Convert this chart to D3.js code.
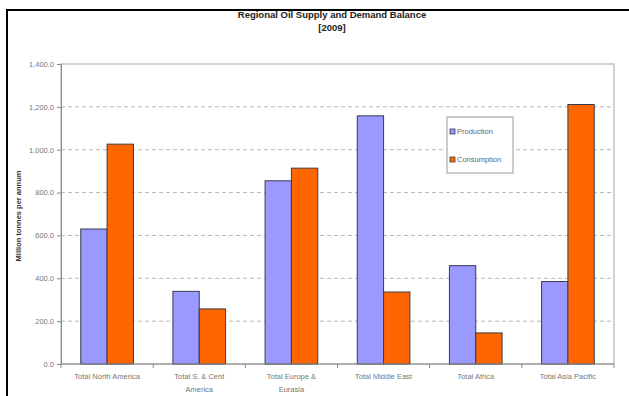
<!DOCTYPE html>
<html>
<head>
<meta charset="utf-8">
<script src="https://cdn.jsdelivr.net/npm/d3@7"></script>
<style>
  html, body { margin: 0; padding: 0; background: #fff; }
  svg { display: block; font-family: "Liberation Sans", Arial, sans-serif; }
</style>
</head>
<body>
<svg id="chart" width="629" height="396"></svg>
<script>
// Regional oil production vs consumption, 2009 (million tonnes)
const regions = [
  ["Total North America"],
  ["Total S. & Cent", "America"],
  ["Total Europe &", "Eurasia"],
  ["Total Middle East"],
  ["Total Africa"],
  ["Total Asia Pacific"]
];
const production  = [630, 339, 855, 1158, 459, 385];
const consumption = [1026, 257, 914, 336, 145, 1211];
const seriesNames = ["Production", "Consumption"];
const seriesColors = ["#9999ff", "#ff6600"];
const yTicks = [0, 200, 400, 600, 800, 1000, 1200, 1400];

const svg = d3.select("#chart");
const plot = { left: 61, right: 614, top: 64, bottom: 364 };

// outer chart frame
svg.append("path")
  .attr("d", "M7,400 L7,10 L640,10")
  .attr("fill", "none").attr("stroke", "#000").attr("stroke-width", 2);

// title
svg.append("text").attr("x", 332).attr("y", 18)
  .attr("text-anchor", "middle").attr("font-weight", "bold")
  .attr("font-size", 9.5).attr("fill", "#222")
  .text("Regional Oil Supply and Demand Balance");
svg.append("text").attr("x", 332).attr("y", 31)
  .attr("text-anchor", "middle").attr("font-weight", "bold")
  .attr("font-size", 9.5).attr("fill", "#222")
  .text("[2009]");

const y = d3.scaleLinear().domain([0, 1400]).range([plot.bottom, plot.top]);
const x = d3.scaleBand().domain(d3.range(regions.length))
  .range([plot.left, plot.right]).padding(0);
const groupW = x.bandwidth() * 2 / 3.5;
const xs = d3.scaleBand().domain([0, 1]).range([0, groupW]).padding(0);

// horizontal dashed gridlines
svg.append("g").selectAll("line")
  .data(yTicks.filter(t => t > 0 && t < 1400))
  .join("line")
  .attr("x1", plot.left).attr("x2", plot.right)
  .attr("y1", d => y(d)).attr("y2", d => y(d))
  .attr("stroke", "#b8b8b8").attr("stroke-width", 1)
  .attr("stroke-dasharray", "4,3");

// plot area border
svg.append("rect")
  .attr("x", plot.left).attr("y", plot.top)
  .attr("width", plot.right - plot.left).attr("height", plot.bottom - plot.top)
  .attr("fill", "none").attr("stroke", "#c4c4c4").attr("stroke-width", 1.5);

// bars
const series = [production, consumption];
const g = svg.append("g");
series.forEach((vals, si) => {
  g.selectAll(null).data(vals).join("rect")
    .attr("x", (d, i) => x(i) + (x.bandwidth() - groupW) / 2 + xs(si))
    .attr("y", d => y(d))
    .attr("width", xs.bandwidth())
    .attr("height", d => y(0) - y(d))
    .attr("fill", seriesColors[si])
    .attr("stroke", "#3a3a4a").attr("stroke-width", 1);
});

// y axis
const yAxis = svg.append("g").attr("transform", `translate(${plot.left},0)`)
  .call(d3.axisLeft(y).tickValues(yTicks).tickFormat(d3.format(",.1f")).tickSize(4));
yAxis.select(".domain").attr("stroke", "#8a8a8a");
yAxis.selectAll(".tick line").attr("stroke", "#8a8a8a");
yAxis.selectAll("text").attr("fill", "#777").attr("font-size", 7.5)
  .attr("font-family", "Liberation Sans, Arial, sans-serif");

// x axis baseline and category boundary ticks
const xAxis = svg.append("g");
xAxis.append("line").attr("x1", plot.left).attr("x2", plot.right)
  .attr("y1", plot.bottom).attr("y2", plot.bottom).attr("stroke", "#8a8a8a");
xAxis.selectAll(null).data(d3.range(regions.length + 1)).join("line")
  .attr("x1", i => plot.left + i * x.bandwidth())
  .attr("x2", i => plot.left + i * x.bandwidth())
  .attr("y1", plot.bottom).attr("y2", plot.bottom + 4)
  .attr("stroke", "#8a8a8a");

const labels = xAxis.selectAll(null).data(regions).join("text")
  .attr("text-anchor", "middle").attr("font-size", 7.5).attr("fill", "#777")
  .attr("transform", (d, i) => `translate(${x(i) + x.bandwidth() / 2},${plot.bottom + 15})`);
labels.selectAll("tspan").data(d => d).join("tspan")
  .attr("x", 0).attr("dy", (d, j) => j === 0 ? 0 : 12.5).text(d => d);

// y axis title
svg.append("text")
  .attr("transform", `translate(21,${(plot.top + plot.bottom) / 2 + 2}) rotate(-90)`)
  .attr("text-anchor", "middle").attr("font-size", 7.5).attr("font-weight", "bold")
  .attr("fill", "#333").text("Million tonnes per annum");

// legend
const lg = svg.append("g").attr("transform", "translate(447,117)");
lg.append("rect").attr("width", 66).attr("height", 56)
  .attr("fill", "#fff").attr("stroke", "#9a9a9a").attr("stroke-width", 1);
seriesNames.forEach((name, i) => {
  const row = lg.append("g").attr("transform", `translate(3,${17 + i * 28})`);
  row.append("rect").attr("x", 0).attr("y", -5).attr("width", 5).attr("height", 5)
    .attr("fill", seriesColors[i]).attr("stroke", "#3a3a4a").attr("stroke-width", 0.8);
  row.append("text").attr("x", 7).attr("y", 0).attr("font-size", 7.5)
    .attr("fill", "#666").text(name);
});
</script>
</body>
</html>
